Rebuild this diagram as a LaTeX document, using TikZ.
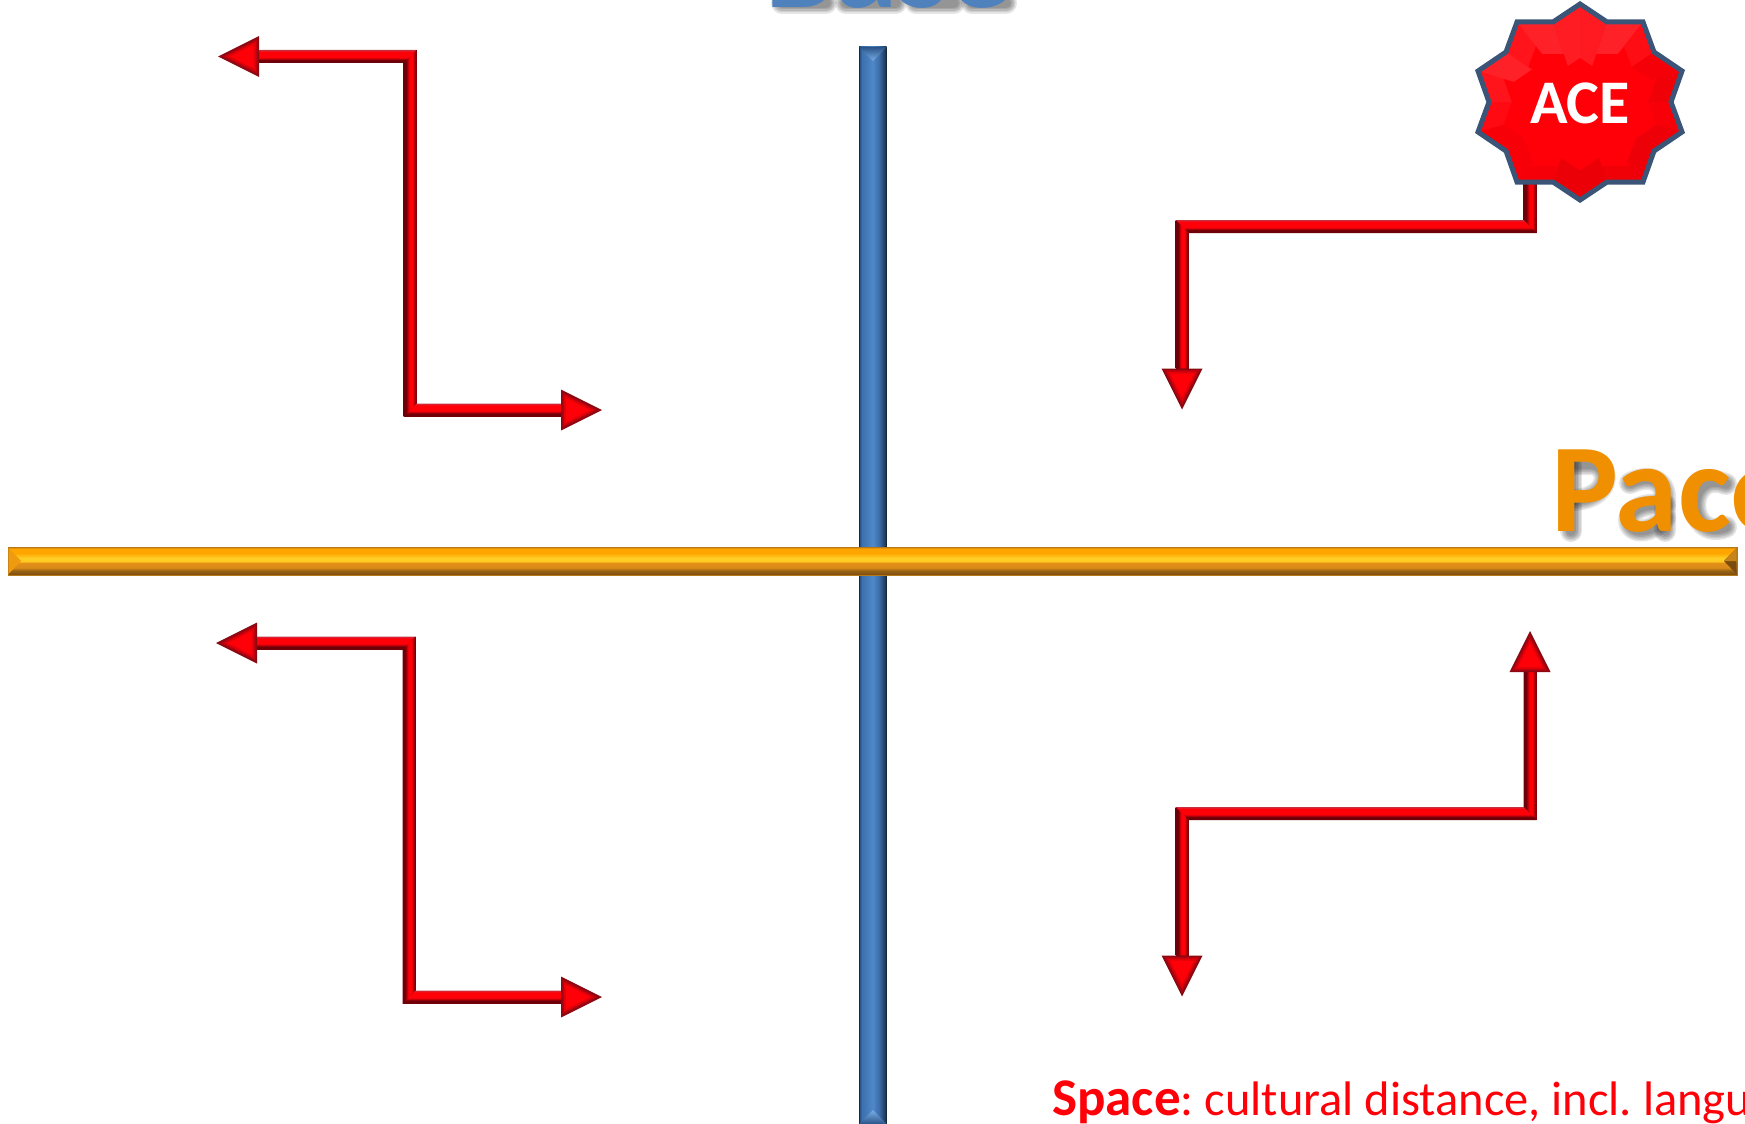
\documentclass[tikz,border=0pt]{standalone}
\usepackage{fontspec}
\setmainfont{Carlito}
\usetikzlibrary{calc}
\definecolor{baseblue}{HTML}{4F81BD}
\definecolor{paceorange}{HTML}{F09000}
\definecolor{redmain}{HTML}{FF0008}
\definecolor{reddark}{HTML}{800008}
\definecolor{starline}{HTML}{3B5578}
\definecolor{oa}{HTML}{7A4C10}
\definecolor{ob}{HTML}{9A6414}
\definecolor{oc}{HTML}{E39018}
\definecolor{od}{HTML}{FFC820}
\definecolor{oe}{HTML}{FFD028}
\definecolor{of}{HTML}{FFA500}
\definecolor{og}{HTML}{B87818}
\definecolor{oh}{HTML}{F09A10}
\definecolor{oi}{HTML}{C88418}
\definecolor{oj}{HTML}{D88A18}
\definecolor{ba}{HTML}{24466E}
\definecolor{bb}{HTML}{3B70AE}
\definecolor{bc}{HTML}{5088C8}
\definecolor{bd}{HTML}{3A6CA8}
\definecolor{be}{HTML}{1F3B5C}
\definecolor{bf}{HTML}{16283E}
\definecolor{bg}{HTML}{2A5488}
\definecolor{bh}{HTML}{7AAEE8}
\definecolor{ra}{HTML}{700008}
\definecolor{rb}{HTML}{A00008}
\definecolor{rc}{HTML}{C83040}
\definecolor{rd}{HTML}{C00008}
\definecolor{ha}{HTML}{8A0A12}
\definecolor{hb}{HTML}{B80010}
\definecolor{hc}{HTML}{E00008}
\pgfdeclareverticalshading{orangebar}{100bp}{color(0bp)=(oa);color(25bp)=(oa);color(33bp)=(ob);color(38bp)=(oj);color(47bp)=(oc);color(49bp)=(od);color(55bp)=(oe);color(64bp)=(of);color(72bp)=(of);color(75bp)=(og);color(100bp)=(og)}
\pgfdeclarehorizontalshading{bluebar}{100bp}{color(0bp)=(ba);color(25bp)=(ba);color(30bp)=(bb);color(50bp)=(bc);color(62bp)=(bd);color(72bp)=(be);color(75bp)=(bf);color(100bp)=(bf)}
\pgfdeclareverticalshading{redh}{100bp}{color(0bp)=(ra);color(25bp)=(ra);color(36bp)=(ra);color(42bp)=(rd);color(47bp)=(redmain);color(68bp)=(redmain);color(75bp)=(rc);color(100bp)=(rc)}
\pgfdeclarehorizontalshading{redv}{100bp}{color(0bp)=(ra);color(25bp)=(ra);color(35bp)=(ra);color(42bp)=(rd);color(48bp)=(redmain);color(60bp)=(redmain);color(67bp)=(rb);color(75bp)=(ra);color(100bp)=(ra)}
\tikzset{
  shaft/.style={draw=reddark,line width=13pt,line join=miter},
  hsegm/.style={shading=redh,shading angle=0},
  vsegm/.style={shading=redv,shading angle=0},
  bigtext/.style={font=\bfseries\fontsize{126}{126}\selectfont,inner sep=0pt,anchor=base west},
  legend/.style={font=\fontsize{48.5}{50}\selectfont,text=redmain,inner sep=0pt,anchor=base west},
  shadowlayer/.style={draw=black,opacity=0.1,line cap=round,line join=round},
  head/.pic={
    \fill[ha] (0,0) -- (-41,-20.5) -- (-41,20.5) -- cycle;
    \fill[hb] (-4.5,0) -- (-39.5,-17.5) -- (-39.5,17.5) -- cycle;
    \fill[hc] (-8,0) -- (-38,-15) -- (-38,15) -- cycle;
    \fill[redmain] (-12,0) -- (-36,-12) -- (-36,12) -- cycle;
  }
}
\newcommand{\hpart}[4]{\path[hsegm] ($(#1)+(#3,-6.5)$) -- ($(#2)+(#4,-6.5)$) -- ($(#2)+(-#4,6.5)$) -- ($(#1)+(-#3,6.5)$) -- cycle;}
\newcommand{\vpart}[4]{\path[vsegm] ($(#1)+(-6.5,-#3)$) -- ($(#1)+(6.5,#3)$) -- ($(#2)+(6.5,#4)$) -- ($(#2)+(-6.5,-#4)$) -- cycle;}
% soft letter shadows, drawn as strokes so that each label stays one text
\newcommand{\softpace}[1]{%
  \draw[shadowlayer,line width=#1pt] (1571,464) -- (1571,531);
  \draw[shadowlayer,line width=#1pt] (1571,464) -- (1590,464) .. controls (1612,464) and (1612,500) .. (1571,500);
  \draw[shadowlayer,line width=#1pt] (1630,483) .. controls (1650,474) and (1665,480) .. (1665,498) -- (1665,531);
  \draw[shadowlayer,line width=#1pt] (1665,505) .. controls (1620,500) and (1622,535) .. (1645,530) .. controls (1655,528) and (1662,522) .. (1665,518);
  \draw[shadowlayer,line width=#1pt] (1726,484) .. controls (1685,468) and (1685,542) .. (1726,527);}
\newcommand{\softbase}[1]{%
  \draw[shadowlayer,line width=#1pt] (782,3) -- (826,3);
  \draw[shadowlayer,line width=#1pt] (846,3) -- (896,3);
  \draw[shadowlayer,line width=#1pt] (916,3) -- (954,3);
  \draw[shadowlayer,line width=#1pt] (972,3) -- (1006,3);}
\begin{document}
\begin{tikzpicture}[x=1pt,y=-1pt]
\useasboundingbox (0,0) rectangle (1745,1124);
\clip (0,0) rectangle (1745,1124);
% axes
\coordinate (btop) at (859,47);
\coordinate (bbot) at (886.5,1124);
\path[shading=bluebar,draw=bf,line width=.6pt] (btop) rectangle (bbot);
\shade[top color=bg,bottom color=bh] (859,47) -- (886.5,47) -- (873,61) -- cycle;
\shade[top color=bh,bottom color=bg] (859,1124) -- (886.5,1124) -- (873,1110) -- cycle;
\coordinate (oleft) at (8,547);
\coordinate (oright) at (1737,575);
\path[shading=orangebar,draw=og,line width=1pt] (oleft) rectangle (oright);
\fill[oh] (8.5,548) -- (21,561) -- (8.5,574) -- cycle;
\fill[oa] (1736.5,548) -- (1724,561) -- (1736.5,574) -- cycle;
\fill[oi] (1736.5,548) -- (1724,561) -- (1736.5,561) -- cycle;
% big labels
\foreach \w in {22,19,16,13,10}{\softpace{\w}\softbase{\w}}
\node[bigtext,text=baseblue] (basetext) at (765,8) {Base};
\node[bigtext,text=paceorange] (pacetext) at (1551,531) {Pace};
% arrow coordinates
\coordinate (a1) at (259,56.5); \coordinate (a2) at (410,56.5); \coordinate (a3) at (410,410); \coordinate (a4) at (561,410);
\coordinate (a1t) at (218,56.5); \coordinate (a4t) at (602,410);
\coordinate (b1) at (257,643); \coordinate (b2) at (409,643); \coordinate (b3) at (409,997); \coordinate (b4) at (561,997);
\coordinate (b1t) at (216,643); \coordinate (b4t) at (602,997);
\coordinate (c1) at (1530,150); \coordinate (c2) at (1530,226.5); \coordinate (c3) at (1182,226.5); \coordinate (c4) at (1182,368.5);
\coordinate (c4t) at (1182,409.5);
\coordinate (d1) at (1530,672); \coordinate (d2) at (1530,813.5); \coordinate (d3) at (1182,813.5); \coordinate (d4) at (1182,955.5);
\coordinate (d1t) at (1530,631); \coordinate (d4t) at (1182,996.5);
\draw[shaft] (a1) -- (a2) -- (a3) -- (a4);
\draw[shaft] (b1) -- (b2) -- (b3) -- (b4);
\draw[shaft] (c1) -- (c2) -- (c3) -- (c4);
\draw[shaft] (d1) -- (d2) -- (d3) -- (d4);
\hpart{a1}{a2}{0}{6.5}\vpart{a2}{a3}{-6.5}{-6.5}\hpart{a3}{a4}{6.5}{0}
\hpart{b1}{b2}{0}{6.5}\vpart{b2}{b3}{-6.5}{-6.5}\hpart{b3}{b4}{6.5}{0}
\vpart{c1}{c2}{0}{6.5}\hpart{c3}{c2}{-6.5}{-6.5}\vpart{c3}{c4}{6.5}{0}
\vpart{d1}{d2}{0}{6.5}\hpart{d3}{d2}{-6.5}{-6.5}\vpart{d3}{d4}{6.5}{0}
\pic[rotate=180] at (a1t) {head};
\pic at (a4t) {head};
\pic[rotate=180] at (b1t) {head};
\pic at (b4t) {head};
\pic[rotate=-90] at (c4t) {head};
\pic[rotate=-90] at (d4t) {head};
\pic[rotate=90] at (d1t) {head};
% ACE star
\coordinate (sc) at (1580,102);
\coordinate (s1) at (1580,4); \coordinate (s2) at (1607,22); \coordinate (s3) at (1643,22); \coordinate (s4) at (1654,52);
\coordinate (s5) at (1682,71); \coordinate (s6) at (1671,102); \coordinate (s7) at (1682,132); \coordinate (s8) at (1654,151);
\coordinate (s9) at (1643,182); \coordinate (s10) at (1607,182); \coordinate (s11) at (1580,200); \coordinate (s12) at (1553,182);
\coordinate (s13) at (1517,182); \coordinate (s14) at (1506,151); \coordinate (s15) at (1478,132); \coordinate (s16) at (1489,102);
\coordinate (s17) at (1478,71); \coordinate (s18) at (1506,52); \coordinate (s19) at (1517,22); \coordinate (s20) at (1553,22);
\path[fill=redmain] (s1) -- (s2) -- (s3) -- (s4) -- (s5) -- (s6) -- (s7) -- (s8) -- (s9) -- (s10) -- (s11) -- (s12) -- (s13) -- (s14) -- (s15) -- (s16) -- (s17) -- (s18) -- (s19) -- (s20) -- cycle;
\foreach \a/\b/\t/\m in {1/2/redmain!90!white/.45,2/3/redmain!87!white/.6,3/4/redmain!95!white/.7,4/5/redmain!96!black/.7,5/6/redmain!94!black/.75,
  6/7/redmain!97!black/.75,7/8/redmain!93!black/.75,8/9/redmain!93!black/.75,9/10/redmain!94!black/.8,10/11/redmain!92!black/.7,
  11/12/redmain!92!black/.7,12/13/redmain!96!black/.8,13/14/redmain!97!black/.75,14/15/redmain!97!black/.75,15/16/redmain!96!white/.75,
  16/17/redmain!92!white/.75,17/18/redmain!87!white/.65,18/19/redmain!92!white/.7,19/20/redmain!87!white/.6,20/1/redmain!89!white/.45}{
  \fill[\t] (s\a) -- (s\b) -- ($(sc)!\m!(s\b)$) -- ($(sc)!\m!(s\a)$) -- cycle;
}
\path[draw=starline,line width=5pt,line join=miter] (s1) -- (s2) -- (s3) -- (s4) -- (s5) -- (s6) -- (s7) -- (s8) -- (s9) -- (s10) -- (s11) -- (s12) -- (s13) -- (s14) -- (s15) -- (s16) -- (s17) -- (s18) -- (s19) -- (s20) -- cycle;
\node[font=\bfseries\fontsize{62}{62}\selectfont,text=white,inner sep=0pt] (ace) at (1580,103) {ACE};
% legend
\node[legend] (space) at (1052,1115) {\frenchspacing\fontsize{53}{50}\selectfont\textbf{Space}\fontsize{48.5}{50}\selectfont: cultural distance, incl. language};
\end{tikzpicture}
\end{document}
